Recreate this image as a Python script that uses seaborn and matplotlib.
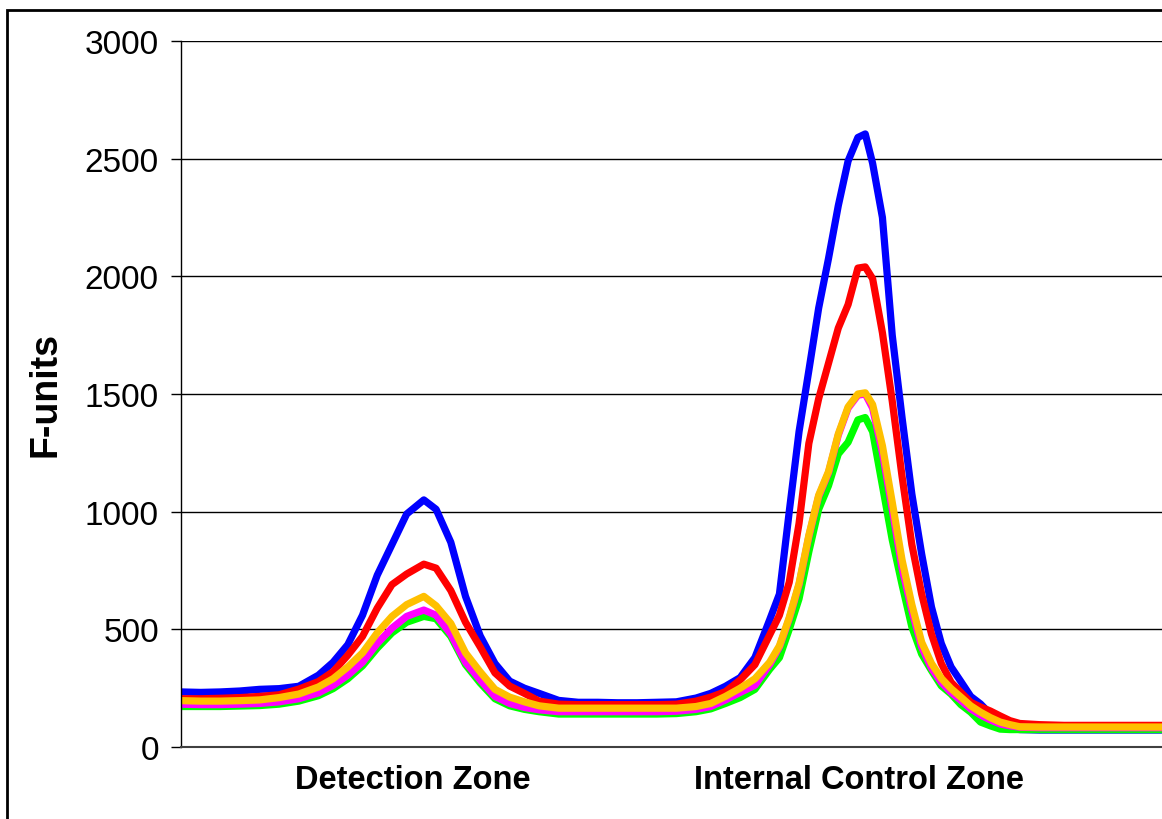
import matplotlib
matplotlib.use('Agg')
import matplotlib.pyplot as plt
import pandas as pd
import seaborn as sns
from matplotlib.patches import Rectangle

# Scan position along the strip (arbitrary units) and F-unit readings per sample
position = [0, 4, 8, 12, 16, 20, 24, 28, 31, 34, 37, 40, 43, 46, 49.5, 52, 55, 58, 61, 64, 67,
            70, 73, 77, 81, 85, 89, 93, 97, 101, 105, 108, 111, 114, 117, 120, 122, 124, 126,
            128, 130, 132, 134, 136, 138, 139.5, 141, 143, 145, 147, 149, 151, 153, 155, 157,
            159, 161, 163, 165, 167, 169, 171, 175, 180, 187, 194, 200]

blue = [234, 232, 234, 238, 245, 248, 258, 305,
        360, 435, 560, 730, 860, 990,
        1050, 1010, 870, 640, 472, 355, 280, 250, 228,
        198, 190, 190, 188, 188, 190, 192,
        208, 228, 258, 295, 380, 540,
        650, 1000, 1340, 1600, 1865, 2075, 2300, 2490, 2590,
        2605, 2480, 2250, 1750, 1400, 1075, 820, 595, 440, 340, 278, 215, 183, 140, 105, 80, 74,
        72, 72, 72, 72, 72]

red = [205, 205, 207, 210, 215, 222, 246, 278,
       320, 390, 470, 590, 690, 735,
       777, 760, 665, 530, 425, 315, 259, 228, 195,
       182, 180, 180, 180, 180, 180, 182,
       195, 212, 235, 285, 350, 476,
       560, 700, 950, 1290, 1480, 1630, 1780, 1880, 2035,
       2040, 1990, 1760, 1470, 1150, 860, 650, 480, 355, 275, 232, 190, 170, 153, 132, 112, 100,
       95, 92, 92, 92, 92]

yellow = [197, 195, 195, 197, 200, 210, 225, 255,
          290, 340, 400, 485, 555, 605,
          640, 600, 525, 400, 319, 245, 212, 192, 175,
          165, 165, 165, 165, 165, 165, 165,
          172, 185, 215, 250, 290, 360,
          430, 550, 695, 900, 1070, 1170, 1330, 1445, 1500,
          1505, 1455, 1280, 1040, 795, 605, 445, 355, 292, 248, 212, 175, 148, 125, 106, 95, 86,
          85, 85, 85, 85, 85]

magenta = [182, 180, 180, 182, 185, 192, 205, 230,
           262, 305, 360, 440, 505, 555,
           582, 560, 480, 360, 285, 215, 185, 168, 158,
           150, 150, 150, 150, 150, 150, 152,
           160, 172, 200, 232, 262, 350,
           425, 545, 690, 895, 1065, 1165, 1325, 1440, 1495,
           1500, 1440, 1250, 1010, 760, 580, 425, 335, 275, 232, 198, 162, 136, 115, 98, 90, 84,
           82, 82, 82, 82, 82]

green = [172, 172, 172, 174, 176, 182, 195, 218,
         248, 290, 345, 420, 485, 530,
         555, 545, 470, 350, 272, 205, 175, 160, 150,
         140, 140, 140, 140, 140, 140, 142,
         150, 162, 185, 210, 245, 330,
         380, 500, 630, 830, 1010, 1110, 1245, 1295, 1390,
         1400, 1340, 1110, 880, 690, 510, 395, 325, 260, 225, 180, 148, 106, 90, 76, 74, 74,
         74, 74, 74, 74, 74]

series_names = ['blue', 'red', 'green', 'magenta', 'yellow']
series_colors = ['#0000FF', '#FF0000', '#00FF00', '#FF00FF', '#FFC000']
zone_pos = [47.3, 138.2]
zone_labels = ['Detection Zone', 'Internal Control Zone']

rows = []
for name, vals in zip(series_names, [blue, red, green, magenta, yellow]):
    for p, v in zip(position, vals):
        rows.append({'position': p, 'value': v, 'series': name})
df = pd.DataFrame(rows)

sns.set_style('white')
plt.rcParams['font.family'] = ['Liberation Sans', 'DejaVu Sans']
plt.rcParams['text.color'] = 'black'
plt.rcParams['axes.labelcolor'] = 'black'
plt.rcParams['xtick.color'] = 'black'
plt.rcParams['ytick.color'] = 'black'

fig = plt.figure(figsize=(11.62, 8.2), dpi=100)
ax = fig.add_axes([0.1558, 0.0878, 0.8442, 0.861])

sns.lineplot(data=df, x='position', y='value', hue='series', hue_order=series_names,
             palette=series_colors, linewidth=5.2, legend=False, ax=ax,
             solid_capstyle='round', solid_joinstyle='round')

ax.set_xlim(0, 200)
ax.set_ylim(0, 3000)
ax.set_yticks(range(0, 3001, 500))
ax.yaxis.grid(True, color='black', linewidth=1)
ax.set_axisbelow(True)

ax.tick_params(axis='y', length=7, width=1, direction='out', labelsize=24, pad=9,
               left=True, color='black', labelcolor='black')
ax.set_xticks(zone_pos)
ax.set_xticklabels(zone_labels, fontsize=23.5, fontweight='bold', color='black')
ax.tick_params(axis='x', length=0, pad=12)

ax.set_xlabel('')
ax.set_ylabel('F-units', fontsize=27, fontweight='bold', color='black')
ax.yaxis.set_label_coords(-0.12, 0.5)

for s in ['top', 'right']:
    ax.spines[s].set_visible(False)
ax.spines['left'].set_color('black')
ax.spines['left'].set_linewidth(1)
ax.spines['bottom'].set_color('#404040')
ax.spines['bottom'].set_linewidth(1.5)

# outer frame (continues past the image edge on right and bottom)
fig.patches.append(Rectangle((0.0058, -0.2), 1.5, 0.9862 + 0.2, transform=fig.transFigure,
                             fill=False, edgecolor='black', linewidth=2, zorder=10))

fig.savefig('out.png', dpi=100)
